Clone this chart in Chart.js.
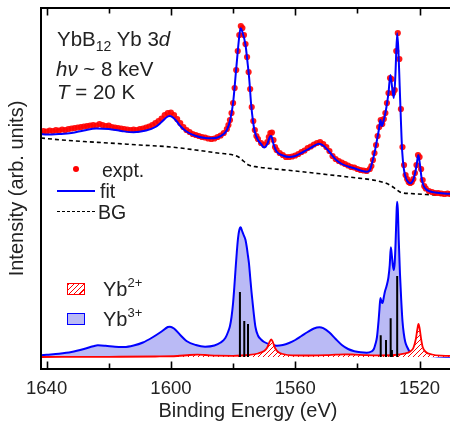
<!DOCTYPE html>
<html lang="en">
<head>
  <meta charset="UTF-8" />
  <title>YbB12 Yb 3d HAXPES</title>
  <style>
    body { margin: 0; background: #fff; overflow: hidden; }
    #wrap { position: relative; width: 450px; height: 429px; overflow: hidden; }
    .lbl {
      position: absolute;
      font-family: 'Liberation Sans', Arial, sans-serif;
      font-size: 20.5px;
      line-height: 1;
      color: #222;
      white-space: nowrap;
    }
    .sub { font-size: 14px; position: relative; top: 5px; }
    .sup { font-size: 13px; position: relative; top: -9px; }
    .dot { position: absolute; width: 6px; height: 6px; border-radius: 50%; background: #f00; }
    .ln { position: absolute; height: 0; }
    .box { position: absolute; box-sizing: border-box; border-width: 1.5px; border-style: solid; }
  </style>
</head>
<body>
  <div id="wrap">
    <canvas id="chart" width="460" height="429"></canvas>

    <div class="lbl" style="left:57px; top:29px">YbB<span class="sub">12</span> Yb 3<i>d</i></div>
    <div class="lbl" style="left:56px; top:59px"><i>h</i><i>ν</i> ~ 8 keV</div>
    <div class="lbl" style="left:57px; top:82px"><i>T</i> = 20 K</div>

    <div class="dot" style="left:73px; top:166px"></div>
    <div class="lbl" style="left:102px; top:161px; font-size:19.5px">expt.</div>
    <div class="ln" style="left:57px; top:190px; width:38px; border-top:2px solid #00f"></div>
    <div class="lbl" style="left:100px; top:182px; font-size:19.5px">fit</div>
    <div class="ln" style="left:57px; top:211px; width:38px; border-top:1.5px dashed #000"></div>
    <div class="lbl" style="left:98px; top:203px; font-size:19.5px">BG</div>

    <div class="box" style="left:67px; top:283px; width:18px; height:12px; border-color:#f00;
      background: repeating-linear-gradient(135deg, #f00 0 1.2px, #fff 1.2px 3.6px)"></div>
    <div class="lbl" style="left:103px; top:279px; font-size:20px">Yb<span class="sup">2+</span></div>
    <div class="box" style="left:67px; top:313px; width:18px; height:12px; border-color:#00f; background:#babaf5"></div>
    <div class="lbl" style="left:103px; top:309px; font-size:20px">Yb<span class="sup">3+</span></div>
  </div>

  <script src="https://cdn.jsdelivr.net/npm/chart.js"></script>
  <script>
    // x ticks (binding energy, eV)
    const energyTicks = [1640, 1620, 1600, 1580, 1560, 1540, 1520];
    const baseline = 12;

    // [binding energy, intensity]
    const expt = [
      [1642,237],[1641,238],[1640,237.5],[1639,238.5],[1638,238],[1637,239],[1636,238.5],[1635,239.5],
      [1634,239],[1633,240],[1632,240.5],[1631,241],[1630,241.5],[1629,242],[1628,242.5],[1627,243],
      [1626,243.5],[1625,244],[1624,243.5],[1623,245],[1622,244],[1621,243],[1620,243.5],[1619,242],
      [1618,241.5],[1617,241],[1616,240.5],[1615,240],[1614,239.5],[1613,239],[1612,239.5],[1611,239],
      [1610,240],[1609,240.5],[1608,241.5],[1607,242.5],[1606,244],[1605,246],[1604,248],[1603,250.5],
      [1602,254],[1601,256],[1600,256.5],[1599,254],[1598,250],[1597,246],[1596,242],[1595,239],
      [1594,237],[1593,235],[1592,234],[1591,233],[1590,232],[1589,231.5],[1588,230.5],[1587,230],
      [1586,230.5],[1585,232],[1584,233.5],[1583,236],[1582,240],[1581.5,244],[1581,249],[1580.5,256],
      [1580,266],[1579.5,281],[1579,299],[1578.5,318],[1578,334],[1577.5,343],[1577,341],[1576.5,334],
      [1576,325],[1575.5,312],[1575,297],[1574.5,280],[1574,262],[1573.5,248],[1573,239],[1572.5,233],
      [1572,230],[1571,226],[1570,224],[1569,227],[1568.5,232],[1568,236],[1567.5,236.5],[1567,229],
      [1566.5,222],[1566,219],[1565,216],[1564,214],[1563,212],[1562,212],[1561,212.5],[1560,213.5],
      [1559,215],[1558,217],[1557,218.5],[1556,221],[1555,222.5],[1554,224.5],[1553,226],[1552,227],
      [1551,225],[1550,222],[1549,218],[1548,213],[1547,210],[1546,208],[1545,206.5],[1544,205],
      [1543,203.5],[1542,202],[1541,201.5],[1540,200],[1539,199],[1538,198.5],[1537,198],[1536,200],
      [1535.5,203],[1535,209],[1534.5,216],[1534,224],[1533.5,233],[1533,242],[1532.5,249],[1532,245],
      [1531.5,250],[1531,256],[1530.5,266],[1530,276],[1529.5,291],[1529,290],[1528.5,276],[1528,279],
      [1527.5,318],[1527,336],[1526.5,310],[1526,260],[1525.5,222],[1525,204],[1524.5,194],[1524,190],
      [1523.5,187],[1523,186],[1522.5,187],[1522,190],[1521.5,196],[1521,204],[1520.5,214],[1520,212],
      [1519.5,200],[1519,189],[1518.5,183],[1518,180.5],[1517,178],[1516,177],[1515,176],[1514,176],
      [1513,175.5],[1512,175],[1511,175.5],[1510,175],[1509,174.5]
    ];

    const fit = [
      [1641.8,235],[1640,234.5],[1636,235],[1632,236],[1628,238.5],[1624,240.5],[1620,240],[1616,238],
      [1612,236.7],[1608,238.5],[1605,242],[1603,247],[1601,252.5],[1600.3,253],[1598.5,249],[1597,243],
      [1595,237.5],[1592,233],[1589,231],[1587,230.7],[1585,231.5],[1583,235],[1582,239],[1581,248],
      [1580,266],[1579,300],[1578,333],[1577.6,340.7],[1577,337],[1576,324],[1575.3,305],[1574.8,290],
      [1574.2,265],[1573.6,248],[1573,237],[1572,229],[1571,225],[1570,221.5],[1569,225],[1568.2,232],
      [1567.7,233],[1567,225],[1566,217.5],[1564,213.5],[1562,212],[1560,213],[1558,216],[1556,219.5],
      [1554,223],[1552.4,225.3],[1551,223.5],[1549,217],[1547,209.5],[1545,205],[1543,202.5],[1541,200.7],
      [1539,198.5],[1537,197.3],[1536,199],[1535.3,206],[1534.5,216],[1533.7,229],[1533,241],[1532.6,249],
      [1532.1,243],[1531.6,248],[1531,256],[1530.5,265],[1530,276],[1529.4,294],[1528.8,281],[1528.3,271],
      [1527.8,292],[1527.2,335.7],[1526.8,318],[1526.4,283],[1526,248],[1525.6,218],[1525,199],[1524.4,191],
      [1523.5,186.5],[1523,185.7],[1522.2,188],[1521.5,195],[1521,203],[1520.4,214],[1519.9,205],[1519.4,192],
      [1518.8,184],[1518,180],[1516.5,177.5],[1515,176.5],[1512,175.5],[1508.6,175]
    ];

    const background = [
      [1641.8,231],[1635,229],[1628,227.5],[1620,226],[1610,224],[1600,222],[1592,219],[1585,216],
      [1580,214],[1578,211.5],[1576.5,207.5],[1575,204],[1572,202],[1568,200.5],[1560,198],[1550,194.5],
      [1540,191],[1535,189],[1531,186],[1529,183],[1527.5,179.5],[1526,176.5],[1523,175.5],[1518,174.5],
      [1508.6,173.5]
    ];

    const yb3 = [
      [1642,13.8],[1640,14.3],[1636,15.3],[1632,17],[1628,20],[1625,22.8],[1623.5,23.7],[1621,23.2],
      [1618,22.2],[1615,22],[1612,23.5],[1609,26.5],[1606,31.5],[1603,37.5],[1601,42],[1600.3,42.3],
      [1599,40.5],[1597,34],[1595,28],[1592,24],[1589,22.3],[1586,23.5],[1584,26.5],[1582.5,31],
      [1581.5,38],[1581,43],[1580.5,52],[1580,66],[1579.6,82],[1579.2,100],[1578.8,117],[1578.4,131],
      [1578,139],[1577.55,141.7],[1577.1,138],[1576.6,134],[1576,129],[1575.6,122],[1575.2,113],[1574.9,106],
      [1574.5,92],[1574.1,78],[1573.8,69],[1573.4,57],[1572.8,42],[1572,33.5],[1571,29.5],[1570,27],
      [1568,24.5],[1566,23.3],[1564,24],[1562,26],[1560,29],[1558,33],[1556,37],[1554,40.5],
      [1552.2,41.7],[1551,40.8],[1549,36.5],[1547,30],[1545,24],[1543,20],[1541,17.8],[1539,16.7],
      [1537,16.3],[1535.5,17.5],[1534.7,20],[1534.2,25],[1533.7,32],[1533.2,48],[1532.9,60],[1532.6,71],
      [1532.2,67],[1531.9,66],[1531.5,72],[1531.1,78],[1530.7,82],[1530.3,87],[1530,92],[1529.6,104],
      [1529.25,121.7],[1528.9,113],[1528.6,104],[1528.3,99],[1528,106],[1527.7,128],[1527.45,152],[1527.25,167.3],
      [1527,160],[1526.7,129],[1526.3,95],[1525.9,69],[1525.5,48],[1525.1,36],[1524.6,27],[1524,22],
      [1523,16.5],[1522,14.5],[1520,13.6],[1517,13],[1514,12.5],[1508.6,12.2]
    ];

    const yb2 = [
      [1642,12],[1620,12.2],[1605,12.5],[1598,13],[1594,14],[1591.5,14.3],[1589,14],[1585,13.3],
      [1580,13.2],[1575,14],[1572,15.5],[1570,18],[1569,21.5],[1568.2,27.5],[1567.7,29.7],[1567.2,27],
      [1566.5,21],[1565.5,17],[1564,15],[1561,13.6],[1556,13.5],[1550,13.8],[1547,14.3],[1544,14.7],
      [1541,14.4],[1537,13.8],[1533,13.6],[1528,14],[1525,15.3],[1523,17.5],[1522,21],[1521.2,30],
      [1520.7,40],[1520.35,45],[1520,41],[1519.5,30],[1519,22],[1518,17],[1516,14.5],[1513,13.3],
      [1508.6,13]
    ];

    // multiplet sticks: [energy, height]
    const sticks = [
      [1577.8,77],[1576.4,48],[1575.2,45],[1532.5,33.7],[1530.8,29],[1529.3,50.7],[1528.9,19],[1527.2,93]
    ];

    const pts = arr => arr.map(([x, y]) => ({x, y}));

    // red "/" hatch pattern
    const pc = document.createElement('canvas');
    pc.width = 5; pc.height = 5;
    const pctx = pc.getContext('2d');
    pctx.fillStyle = '#fff';
    pctx.fillRect(0, 0, 5, 5);
    pctx.strokeStyle = '#f00';
    pctx.lineWidth = 1;
    pctx.beginPath();
    pctx.moveTo(-1, 6); pctx.lineTo(6, -1);
    pctx.moveTo(-1, 1); pctx.lineTo(1, -1);
    pctx.moveTo(4, 6); pctx.lineTo(6, 4);
    pctx.stroke();
    const hatch = pctx.createPattern(pc, 'repeat');

    const frame = {
      id: 'frame',
      afterDatasetsDraw(chart) {
        const {ctx, chartArea: a, scales: {x}} = chart;
        ctx.save();
        ctx.strokeStyle = '#000';
        ctx.lineWidth = 2;
        ctx.beginPath();
        ctx.moveTo(a.right, a.top);
        ctx.lineTo(a.left, a.top);
        ctx.lineTo(a.left, a.bottom);
        ctx.lineTo(a.right, a.bottom);
        ctx.stroke();
        ctx.lineWidth = 1.6;
        energyTicks.forEach(v => {
          const px = Math.round(x.getPixelForValue(v)) + 0.5;
          const len = v % 40 === 0 ? 7.5 : 5.5;
          ctx.beginPath();
          ctx.moveTo(px, a.bottom); ctx.lineTo(px, a.bottom - len);
          ctx.moveTo(px, a.top); ctx.lineTo(px, a.top + len);
          ctx.stroke();
        });
        ctx.restore();
      }
    };

    Chart.defaults.font.family = "'Liberation Sans', Arial, sans-serif";
    Chart.defaults.color = '#222';

    const stickData = [];
    sticks.forEach(([e, h]) => {
      stickData.push({x: e, y: baseline}, {x: e, y: h}, {x: e, y: null});
    });

    new Chart(document.getElementById('chart'), {
      type: 'line',
      data: {
        datasets: [
          { label: 'fit', data: pts(fit), borderColor: '#0000ff', borderWidth: 2, pointRadius: 0,
            cubicInterpolationMode: 'monotone', fill: false, order: 0 },
          { label: 'expt.', data: pts(expt), showLine: false, pointRadius: 3.1, borderWidth: 0,
            pointBackgroundColor: 'rgba(255,0,0,0.9)', order: 1 },
          { label: 'BG', data: pts(background), borderColor: '#000', borderWidth: 1.6, borderDash: [4, 3],
            pointRadius: 0, cubicInterpolationMode: 'monotone', fill: false, order: 2 },
          { label: 'sticks', data: stickData, borderColor: '#000', borderWidth: 2, pointRadius: 0,
            spanGaps: false, fill: false, order: 3 },
          { label: 'Yb2+', data: pts(yb2), borderColor: '#ff0000', borderWidth: 1.8, pointRadius: 0,
            cubicInterpolationMode: 'monotone', backgroundColor: hatch, fill: {value: baseline}, order: 4 },
          { label: 'Yb3+', data: pts(yb3), borderColor: '#0000ff', borderWidth: 2, pointRadius: 0,
            cubicInterpolationMode: 'monotone', backgroundColor: '#babaf5', fill: {value: baseline}, order: 5 }
        ]
      },
      options: {
        responsive: false,
        animation: false,
        devicePixelRatio: 1,
        layout: { padding: { top: 8, left: 0, right: 5, bottom: 0 } },
        plugins: { legend: { display: false }, tooltip: { enabled: false } },
        scales: {
          x: {
            type: 'linear',
            reverse: true,
            min: 1508.6,
            max: 1641.8,
            afterFit: s => { s.height = 60; },
            afterBuildTicks: s => { s.ticks = energyTicks.map(v => ({value: v})); },
            grid: { display: false },
            border: { display: false },
            ticks: {
              autoSkip: false, maxRotation: 0, padding: 1,
              font: { size: 18.5 }, color: '#222',
              callback: v => (v % 40 === 0 ? String(v) : '')
            },
            title: { display: true, text: 'Binding Energy (eV)', font: { size: 20 },
              padding: { top: 0, bottom: 6 }, color: '#222' }
          },
          y: {
            min: 0,
            max: 361,
            afterFit: s => { s.width = 41; },
            grid: { display: false },
            border: { display: false },
            ticks: { display: false },
            title: { display: true, text: 'Intensity (arb. units)', font: { size: 20 },
              padding: { top: 5.5, bottom: 0 }, color: '#222' }
          }
        }
      },
      plugins: [frame]
    });
  </script>
</body>
</html>
